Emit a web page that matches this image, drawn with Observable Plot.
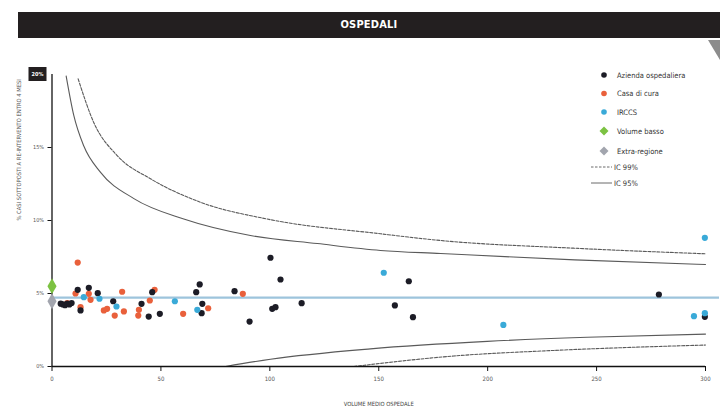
<!DOCTYPE html>
<html><head><meta charset="utf-8">
<script src="https://cdn.jsdelivr.net/npm/d3@7"></script>
<script src="https://cdn.jsdelivr.net/npm/@observablehq/plot@0.6"></script>
<style>
body{margin:0;background:#fff;}
#wrap{position:relative;width:720px;height:412px;overflow:hidden;font-family:"Liberation Sans Narrow","DejaVu Sans Condensed","Roboto",sans-serif;}
#bar{position:absolute;left:18px;top:12px;width:702px;height:26px;background:#231f20;color:#fff;font-weight:bold;font-size:11px;text-align:center;line-height:26px;letter-spacing:0.2px;z-index:2}
#ear{position:absolute;left:708px;top:40px;width:12px;height:20px;background:#8c8c8c;clip-path:polygon(0 0,100% 0,100% 100%);z-index:2}
#legend{position:absolute;left:0;top:0;z-index:2;pointer-events:none}
#chart{position:absolute;left:0;top:0}
</style></head>
<body><div id="wrap"><div id="chart"></div><div id="bar">OSPEDALI</div><div id="ear"></div><svg id="legend" width="720" height="412"></svg></div>
<script>
const title = "OSPEDALI";
const yLabel = "% CASI SOTTOPOSTI A RE-INTERVENTO ENTRO 4 MESI";
const xLabel = "VOLUME MEDIO OSPEDALE";
const xTicks = [0, 50, 100, 150, 200, 250, 300];
const yTicks = [0, 5, 10, 15];
const yTopLabel = "20%";
const meanPct = 4.72;

const categories = ["Azienda ospedaliera", "Casa di cura", "IRCCS", "Volume basso", "Extra-regione"];
const catColors = ["#1c1c26", "#e9603b", "#3aaad8", "#7cc242", "#a2a5ae"];

const aziendaVol = [4, 5, 6, 7, 8, 9, 11.8, 13.1, 16.9, 21.0, 28.1, 41.1, 44.4, 46.0, 49.5, 66.2, 67.8, 69.0, 68.7, 83.8, 90.7, 100.3, 101.1, 102.6, 104.9, 114.6, 157.4, 163.8, 165.7, 278.6, 299.7];
const aziendaPct = [4.3, 4.25, 4.2, 4.3, 4.25, 4.35, 5.25, 3.84, 5.39, 5.02, 4.47, 4.29, 3.42, 5.09, 3.61, 5.09, 5.62, 4.29, 3.65, 5.16, 3.08, 7.45, 3.95, 4.06, 5.96, 4.34, 4.18, 5.84, 3.38, 4.93, 3.4];
const casaVol = [11.8, 10.8, 13.1, 16.9, 17.7, 23.8, 25.3, 28.8, 32.2, 33.0, 39.9, 39.6, 44.9, 47.1, 60.2, 71.7, 87.6, 7];
const casaPct = [7.12, 5.0, 4.06, 4.98, 4.57, 3.84, 3.95, 3.49, 5.12, 3.77, 3.88, 3.49, 4.52, 5.25, 3.61, 3.99, 4.98, 4.35];
const irccsVol = [14.6, 21.8, 29.6, 56.4, 66.7, 152.3, 207.2, 294.7, 299.7, 299.7];
const irccsPct = [4.75, 4.64, 4.11, 4.47, 3.88, 6.42, 2.85, 3.45, 3.65, 8.81];
const bassoVol = [0];
const bassoPct = [5.5];
const extraVol = [0];
const extraPct = [4.47];

const ic95UpVol = [6.5, 10.0, 14.6, 22.3, 37.6, 60.5, 91.1, 121.8, 150.8, 178.4, 240, 300];
const ic95UpPct = [19.9, 17.2, 15.1, 13.3, 11.5, 10.1, 8.97, 8.42, 7.95, 7.74, 7.3, 6.99];
const ic99UpVol = [12.0, 19.2, 29.9, 45.2, 68.2, 98.8, 150.8, 178.4, 240, 300];
const ic99UpPct = [19.7, 16.7, 14.45, 12.86, 11.25, 10.1, 9.09, 8.63, 8.1, 7.72];
const ic95LoVol = [79.7, 100.3, 146.2, 199.8, 245.7, 300];
const ic95LoPct = [0, 0.5, 1.21, 1.72, 2.0, 2.22];
const ic99LoVol = [138.6, 184.5, 230.4, 300];
const ic99LoPct = [0, 0.72, 1.1, 1.47];

const pts = (vol, pct, cat) => vol.map((v, i) => ({vol: v, pct: pct[i], cat}));
const casa = pts(casaVol, casaPct, categories[1]);
const azienda = pts(aziendaVol, aziendaPct, categories[0]);
const irccs = pts(irccsVol, irccsPct, categories[2]);
const basso = pts(bassoVol, bassoPct, categories[3]);
const extra = pts(extraVol, extraPct, categories[4]);
const curve = (vol, pct) => vol.map((v, i) => ({vol: v, pct: pct[i]}));

const font = '"Liberation Sans Narrow","DejaVu Sans Condensed","Roboto",sans-serif';
const lineColor = "#5a5a5a";

const chart = Plot.plot({
  width: 720, height: 412,
  marginLeft: 51.5, marginRight: 15, marginTop: 74, marginBottom: 46,
  style: {fontFamily: font, fontSize: "6px", color: "#555", background: "transparent"},
  x: {domain: [0, 300], axis: null},
  y: {domain: [0, 20], axis: null},
  color: {domain: categories, range: catColors},
  marks: [
    Plot.ruleY([meanPct], {stroke: "#9dc4dc", strokeWidth: 2.2, insetRight: -14}),
    Plot.line(curve(ic95UpVol, ic95UpPct), {x: "vol", y: "pct", curve: "monotone-x", stroke: lineColor, strokeWidth: 1.1}),
    Plot.line(curve(ic99UpVol, ic99UpPct), {x: "vol", y: "pct", curve: "monotone-x", stroke: lineColor, strokeWidth: 1.1, strokeDasharray: "3,1.5"}),
    Plot.line(curve(ic95LoVol, ic95LoPct), {x: "vol", y: "pct", curve: "monotone-x", stroke: lineColor, strokeWidth: 1.1}),
    Plot.line(curve(ic99LoVol, ic99LoPct), {x: "vol", y: "pct", curve: "monotone-x", stroke: lineColor, strokeWidth: 1.1, strokeDasharray: "3,1.5"}),
    Plot.ruleY([0], {stroke: "#111", strokeWidth: 1.3}),
    Plot.ruleX([0], {y1: 0, y2: 20, stroke: "#111", strokeWidth: 1.3}),
    Plot.axisX(xTicks, {label: null, tickSize: 5, tickPadding: 5, tickFormat: d => String(d), stroke: "#111", fill: "#555", fontSize: 6}),
    Plot.axisY(yTicks, {label: null, tickSize: 4, tickPadding: 4, tickFormat: d => d + "%", stroke: "#111", fill: "#555", fontSize: 5.5}),
    Plot.text([yLabel], {frameAnchor: "left", rotate: -90, dx: -33, fill: "#555", fontSize: 5.8}),
    Plot.text([xLabel], {frameAnchor: "bottom", dy: 39, fill: "#444", fontSize: 5.8}),
    Plot.dot(casa, {x: "vol", y: "pct", fill: "cat", r: 3.1}),
    Plot.dot(azienda, {x: "vol", y: "pct", fill: "cat", r: 3.1}),
    Plot.dot(irccs, {x: "vol", y: "pct", fill: "cat", r: 3.1}),
    Plot.dot(extra, {x: "vol", y: "pct", fill: "cat", symbol: "diamond", r: 4.8}),
    Plot.dot(basso, {x: "vol", y: "pct", fill: "cat", symbol: "diamond", r: 4.8}),
    (index, scales, values, dims) => {
      const g = d3.create("svg:g");
      const y = scales.y(20);
      const x0 = dims.marginLeft;
      g.append("rect").attr("x", x0 - 23).attr("y", y - 7).attr("width", 18).attr("height", 14).attr("fill", "#231f20");
      g.append("text").attr("x", x0 - 14).attr("y", y).attr("dy", "0.35em").attr("text-anchor", "middle")
        .attr("fill", "#fff").attr("font-size", 5.5).attr("font-weight", "bold").text(yTopLabel);
      return g.node();
    }
  ]
});
document.getElementById("chart").appendChild(chart);
document.getElementById("bar").textContent = title;

// legend
const legendItems = [
  {label: categories[0], kind: "circle", color: catColors[0]},
  {label: categories[1], kind: "circle", color: catColors[1]},
  {label: categories[2], kind: "circle", color: catColors[2]},
  {label: categories[3], kind: "diamond", color: catColors[3]},
  {label: categories[4], kind: "diamond", color: catColors[4]},
  {label: "IC 99%", kind: "dash", color: lineColor},
  {label: "IC 95%", kind: "solid", color: lineColor}
];
const rowY = [75, 93.5, 112, 131, 151, 167, 183];
const lg = d3.select("#legend").attr("font-family", font);
legendItems.forEach((it, i) => {
  const y = rowY[i], mx = 604;
  if (it.kind === "circle") lg.append("circle").attr("cx", mx).attr("cy", y).attr("r", 2.8).attr("fill", it.color);
  else if (it.kind === "diamond") lg.append("path").attr("d", `M${mx},${y-4.5}L${mx+4.5},${y}L${mx},${y+4.5}L${mx-4.5},${y}Z`).attr("fill", it.color);
  else lg.append("line").attr("x1", 591).attr("x2", 612).attr("y1", y).attr("y2", y).attr("stroke", it.color).attr("stroke-width", 0.9).attr("stroke-dasharray", it.kind === "dash" ? "2.5,1.5" : null);
  lg.append("text").attr("x", it.kind === "circle" || it.kind === "diamond" ? 617 : 614).attr("y", y).attr("dy", "0.35em")
    .attr("font-size", 7.5).attr("fill", "#333").text(it.label);
});
</script>
</body></html>
